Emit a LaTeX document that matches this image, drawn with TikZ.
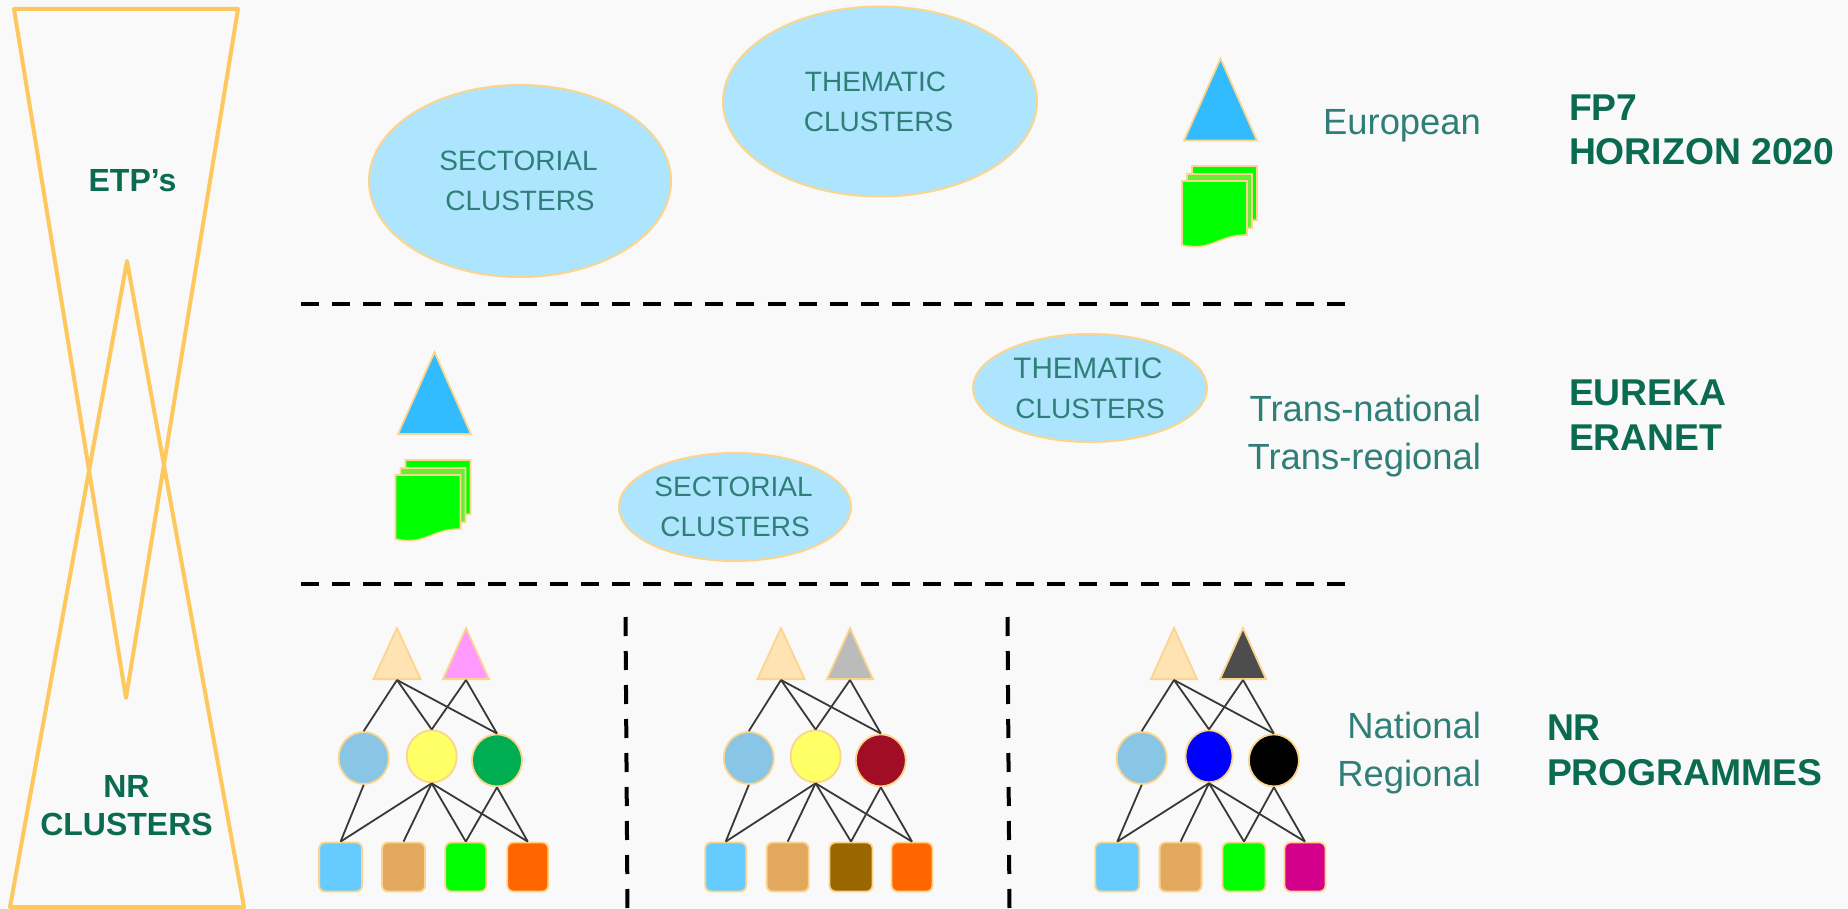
\documentclass[tikz,border=0pt]{standalone}
\usepackage{fontspec}
\setmainfont{Liberation Sans}
\usetikzlibrary{shapes.geometric}
\definecolor{bgc}{HTML}{F9F9F9}
\definecolor{edgeo}{HTML}{FDC85E}
\definecolor{edgel}{HTML}{FBD58E}
\definecolor{darkg}{HTML}{0B6B50}
\definecolor{teal1}{HTML}{2F7F78}
\definecolor{ellf}{HTML}{ADE5FF}
\definecolor{blueT}{HTML}{33BBFF}
\definecolor{peach}{HTML}{FFE3B3}
\definecolor{pinkT}{HTML}{FF99FF}
\definecolor{grayT}{HTML}{BBBBBB}
\definecolor{darkT}{HTML}{4D4D4D}
\definecolor{cblue}{HTML}{89C6E5}
\definecolor{cyel}{HTML}{FFFF66}
\definecolor{cgrn}{HTML}{00AD50}
\definecolor{cred}{HTML}{A10D25}
\definecolor{rblue}{HTML}{66CCFF}
\definecolor{rtan}{HTML}{E2A95E}
\definecolor{rorg}{HTML}{FF6600}
\definecolor{rbrn}{HTML}{996600}
\definecolor{rmag}{HTML}{D4008C}
\definecolor{sheet}{HTML}{00FF00}
\definecolor{sheetm}{HTML}{66EE33}
\tikzset{
  hour/.style={draw=edgeo,line width=4pt,line join=round},
  cluster/.style={ellipse,draw=edgel,line width=2pt,fill=ellf,inner sep=0pt,align=center,text=teal1,font=\fontsize{28}{40}\selectfont},
  tri/.style={isosceles triangle,isosceles triangle stretches,shape border rotate=90,inner sep=0pt,draw=edgel,line width=1.8pt,anchor=lower side},
  smalltri/.style={tri,minimum width=32pt,minimum height=46pt},
  circ/.style={ellipse,inner sep=0pt,draw=edgel,line width=1.8pt,minimum width=50pt,minimum height=52pt},
  sq/.style={rectangle,rounded corners=6pt,inner sep=0pt,draw=edgel,line width=1.8pt,minimum height=49pt},
  link/.style={draw=black!78,line width=1.8pt},
  sep/.style={draw=black,line width=4pt,dash pattern=on 18pt off 13.1pt},
  vsep/.style={draw=black,line width=4pt,dash pattern=on 19pt off 15pt},
  lvl/.style={text=teal1,font=\fontsize{36.4}{36}\selectfont,anchor=base east},
  prog/.style={text=darkg,font=\fontsize{37.3}{37}\selectfont\bfseries,anchor=base west},
  side/.style={text=darkg,font=\fontsize{32}{38}\selectfont\bfseries,align=center},
  sheetst/.style={draw=edgel,line width=1.6pt,line join=miter}
}
\newcommand{\sheetat}[3]{%
  \begin{scope}[shift={(#1,#2)}]
    \draw[sheetst,fill=#3] (0,0) -- (65,0) -- (65,54) .. controls (35,54) and (30,71) .. (0,64) -- cycle;
  \end{scope}}
\newcommand{\docstack}[2]{%
  \begin{scope}[shift={(#1,#2)}]
    \sheetat{10}{-15}{sheet}
    \sheetat{5}{-7}{sheetm}
    \sheetat{0}{0}{sheet}
  \end{scope}}
\begin{document}
\begin{tikzpicture}[x=1pt,y=-1pt]
\useasboundingbox (0,0) rectangle (1848,909);
\fill[bgc] (0,0) rectangle (1848,909);
% hourglass
\draw[hour] (14,9) -- (238,9) -- (126,698) -- cycle;
\draw[hour] (127,261) -- (244,907) -- (10,907) -- cycle;
\node[side] (etp) at (132.5,181) {ETP’s};
\node[side] (nrc) at (126.5,806) {NR\\CLUSTERS};
% ellipses
\node[cluster,minimum width=302pt,minimum height=192pt] (sec1) at (520,181) {\hspace*{-3pt}SECTORIAL\\CLUSTERS};
\node[cluster,minimum width=314pt,minimum height=190pt] (the1) at (880,101.5) {\hspace*{-9pt}THEMATIC\\\hspace*{-3pt}CLUSTERS};
\node[cluster,minimum width=234pt,minimum height=108pt] (the2) at (1090,388) {{\fontsize{29.6}{40}\selectfont\hspace*{-4pt}THEMATIC}\\CLUSTERS};
\node[cluster,minimum width=232pt,minimum height=108pt] (sec2) at (735,507) {\hspace*{-3pt}SECTORIAL\\CLUSTERS};
% dashed separators
\coordinate (h1a) at (301,304); \coordinate (h1b) at (1346,304);
\coordinate (h2a) at (301,584); \coordinate (h2b) at (1346,584);
\coordinate (v1a) at (625.5,617); \coordinate (v1b) at (627.5,909);
\coordinate (v2a) at (1007.5,617); \coordinate (v2b) at (1009.5,909);
\draw[sep] (h1a) -- (h1b);
\draw[sep] (h2a) -- (h2b);
\draw[vsep] (v1a) -- (v1b);
\draw[vsep] (v2a) -- (v2b);
% big triangles and document stacks
\node[tri,fill=blueT,minimum width=73pt,minimum height=82pt] (bt1) at (1220.5,141.5) {};
\node[tri,fill=blueT,minimum width=73pt,minimum height=82pt] (bt2) at (434.5,435) {};
\docstack{1182}{181}
\docstack{395.5}{475}
% network a
\node[smalltri,fill=peach,minimum width=47pt,minimum height=51pt] (at1) at (397,680) {};
\node[smalltri,fill=pinkT,minimum width=46pt,minimum height=51pt] (at2) at (466,680) {};
\node[circ,fill=cblue] (ac1) at (363.7,758) {};
\node[circ,fill=cyel] (ac2) at (431.7,756.4) {};
\node[circ,fill=cgrn] (ac3) at (497,760.4) {};
\node[sq,fill=rblue,minimum width=43pt] (ar1) at (340.6,867) {};
\node[sq,fill=rtan,minimum width=43pt] (ar2) at (403.5,867) {};
\node[sq,fill=sheet,minimum width=41pt] (ar3) at (465.8,867) {};
\node[sq,fill=rorg,minimum width=41pt] (ar4) at (527.8,867) {};
% network b
\node[smalltri,fill=peach,minimum width=47pt,minimum height=51pt] (bt1n) at (781,680) {};
\node[smalltri,fill=grayT,minimum width=46pt,minimum height=51pt] (bt2n) at (850,680) {};
\node[circ,fill=cblue] (bc1) at (748.8,758) {};
\node[circ,fill=cyel] (bc2) at (815.6,756.4) {};
\node[circ,fill=cred] (bc3) at (880.8,760.4) {};
\node[sq,fill=rblue,minimum width=41pt] (br1) at (725.7,867) {};
\node[sq,fill=rtan,minimum width=42pt] (br2) at (787.7,867) {};
\node[sq,fill=rbrn,minimum width=43pt] (br3) at (851,867) {};
\node[sq,fill=rorg,minimum width=41pt] (br4) at (912,867) {};
% network c
\node[smalltri,fill=peach,minimum width=46pt,minimum height=51pt] (ct1n) at (1174,680) {};
\node[smalltri,fill=darkT,minimum width=46pt,minimum height=51pt] (ct2n) at (1243,680) {};
\node[circ,fill=cblue] (cc1) at (1141.7,758) {};
\node[circ,fill=blue,minimum width=47pt] (cc2) at (1209,756.3) {};
\node[circ,fill=black] (cc3) at (1273.9,760.4) {};
\node[sq,fill=rblue,minimum width=44pt] (cr1) at (1117.3,867) {};
\node[sq,fill=rtan,minimum width=42pt] (cr2) at (1180.6,867) {};
\node[sq,fill=sheet,minimum width=43pt] (cr3) at (1244,867) {};
\node[sq,fill=rmag,minimum width=41pt] (cr4) at (1305,867) {};
% links
\foreach \n/\ta/\tb in {a/at1/at2,b/bt1n/bt2n,c/ct1n/ct2n}{
  \draw[link] (\ta.lower side) -- (\n c1.north);
  \draw[link] (\ta.lower side) -- (\n c2.north);
  \draw[link] (\ta.lower side) -- (\n c3.north);
  \draw[link] (\tb.lower side) -- (\n c2.north);
  \draw[link] (\tb.lower side) -- (\n c3.north);
  \draw[link] (\n c1.south) -- (\n r1.north);
  \draw[link] (\n c2.south) -- (\n r1.north);
  \draw[link] (\n c2.south) -- (\n r2.north);
  \draw[link] (\n c2.south) -- (\n r3.north);
  \draw[link] (\n c2.south) -- (\n r4.north);
  \draw[link] (\n c3.south) -- (\n r3.north);
  \draw[link] (\n c3.south) -- (\n r4.north);
}
% level labels
\node[lvl] (l1) at (1484.5,135) {European};
\node[lvl] (l2) at (1484.5,421) {Trans-national};
\node[lvl] (l3) at (1484.5,469) {Trans-regional};
\node[lvl] (l4) at (1484.5,738) {National};
\node[lvl] (l5) at (1484.5,786) {Regional};
% programme labels
\node[prog] (p1) at (1565.5,121) {FP7};
\node[prog] (p2) at (1565.5,165) {HORIZON 2020};
\node[prog] (p3) at (1565.5,405) {EUREKA};
\node[prog] (p4) at (1565.5,450) {ERANET};
\node[prog] (p5) at (1543.5,740) {NR};
\node[prog] (p6) at (1543.5,785) {PROGRAMMES};
\end{tikzpicture}
\end{document}
